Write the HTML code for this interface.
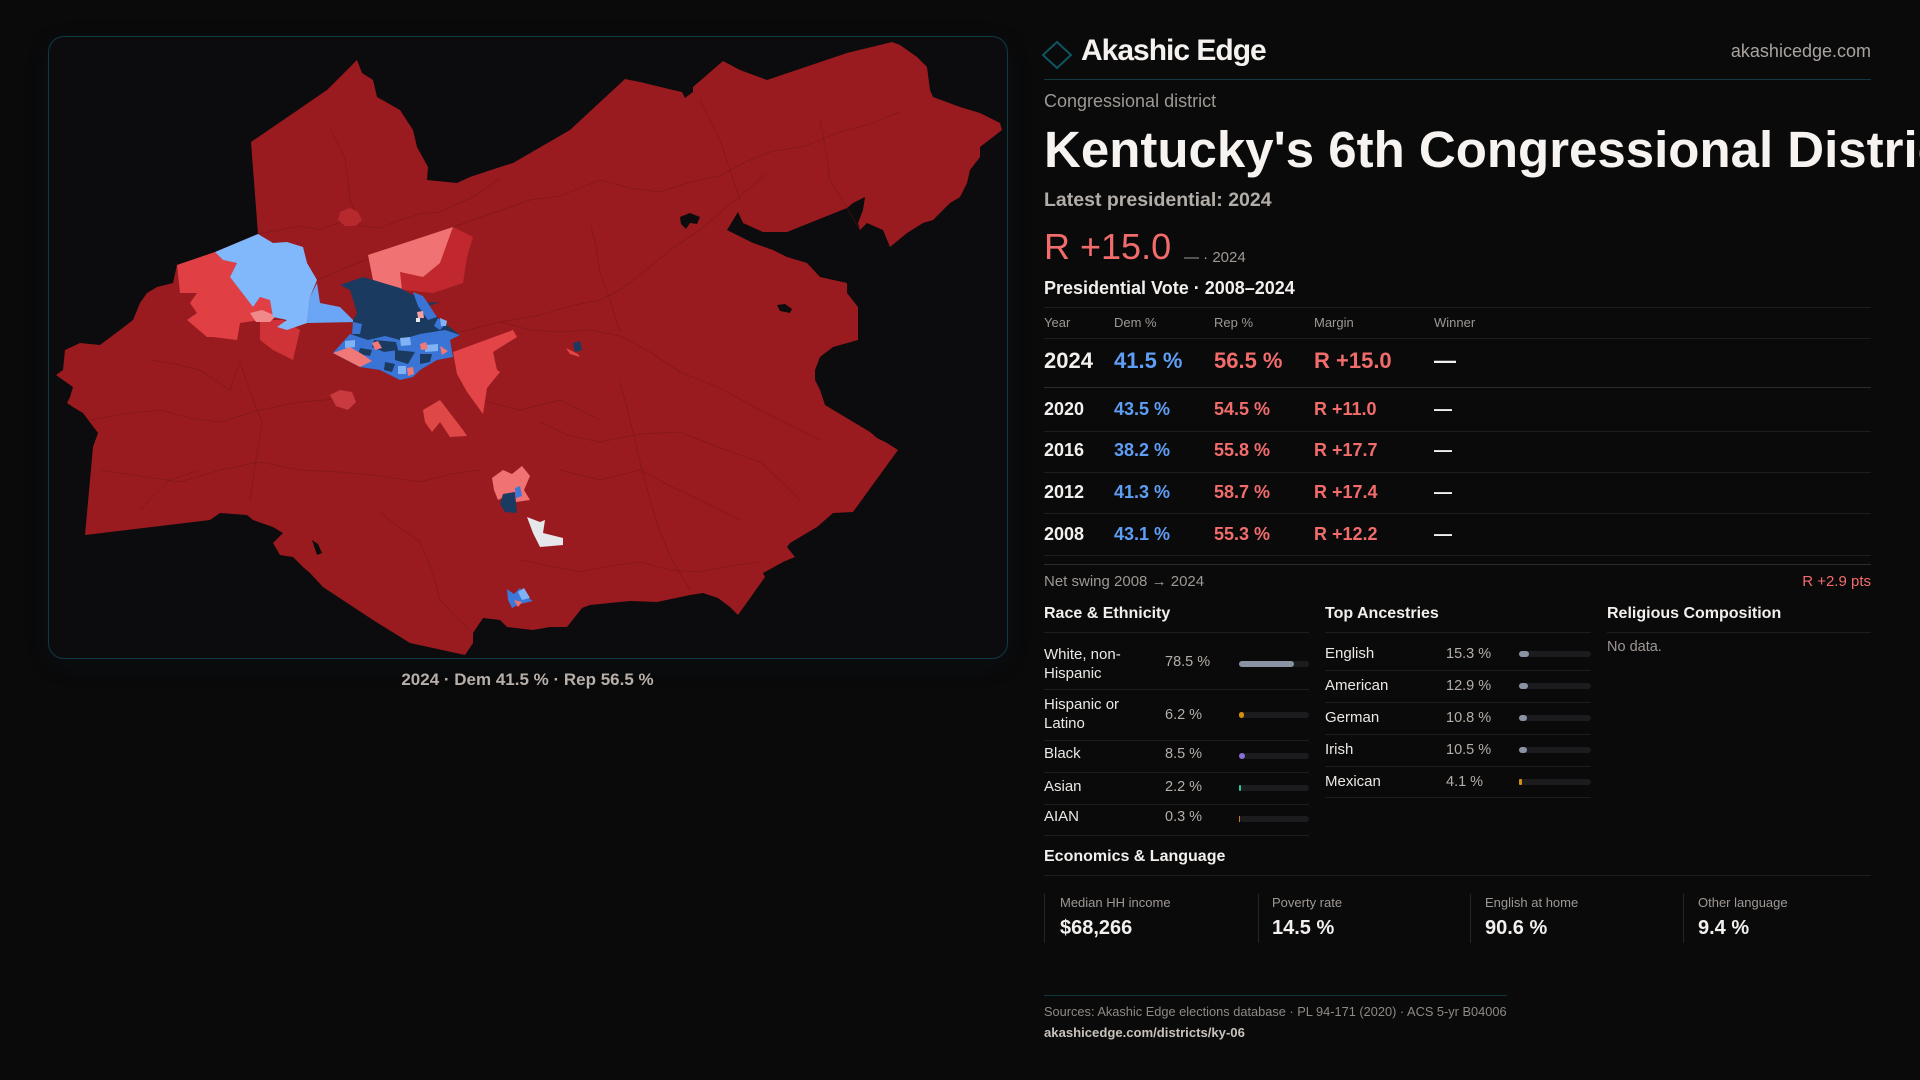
<!DOCTYPE html>
<html><head><meta charset="utf-8">
<style>
*{margin:0;padding:0;box-sizing:border-box}
html,body{width:1920px;height:1080px;background:#0a0a0b;overflow:hidden}
body{position:relative;font-family:"Liberation Sans",sans-serif;color:#f2efec}
.a{position:absolute;line-height:1;white-space:nowrap}
.ln{position:absolute;height:1px}
.g{color:#9e9893}
.w{color:#f2efec}
.b{color:#5e9ef5}
.r{color:#f26c6c}
.bold{font-weight:700}
.track{position:absolute;height:6px;border-radius:3px;background:#1c1c1f}
.fill{position:absolute;left:0;top:0;height:6px;border-radius:3px}
</style></head>
<body>
<!-- map panel -->
<div style="position:absolute;left:48px;top:36px;width:960px;height:623px;border:1px solid #0f3b45;border-radius:16px;background:#0c0b0d;box-shadow:0 6px 24px rgba(10,40,50,0.15)"></div>
<svg style="position:absolute;left:0;top:0" width="1020" height="700" viewBox="0 0 1020 700">
<polygon fill="#9a1b1f" points="251,142 273,127 327,90 357,60 362,73 373,80 377,97 400,110 413,130 417,147 428,167 427,180 457,183 470,177 500,167 513,163 570,130 625,79 640,82 673,90 682,92 685,98 693,92 693,87 723,61 740,70 767,80 847,53 892,42 900,45 917,57 927,67 930,90 933,97 960,107 980,113 1000,123 1002,130 993,137 980,147 980,157 970,170 967,183 960,197 950,203 933,220 923,223 907,233 890,247 883,230 867,223 860,230 858,223 863,210 865,197 853,203 847,208 787,232 763,232 743,223 738,212 727,230 733,233 753,243 773,250 787,257 807,263 820,277 847,283 847,293 858,307 858,340 833,347 820,357 815,370 815,380 820,390 825,405 870,432 877,438 887,443 898,450 853,512 833,513 817,527 790,543 787,547 795,557 783,562 763,573 765,577 738,615 730,607 718,598 703,593 690,595 657,602 630,601 590,605 582,608 567,627 550,627 533,630 507,627 500,620 483,618 473,633 473,643 465,655 410,643 373,620 323,587 310,573 303,567 293,557 280,555 273,543 283,533 273,527 253,520 247,515 220,513 210,520 85,535 93,447 98,433 83,413 73,407 67,403 70,397 73,387 63,380 56,375 63,370 65,350 80,343 100,345 120,330 133,320 140,303 147,293 157,287 173,283 177,265 215,252 258,234"/>
<!-- holes -->
<polygon fill="#0c0b0d" points="680,217 690,213 700,217 697,224 690,223 686,229 681,224"/>
<polygon fill="#0c0b0d" points="777,305 785,304 792,309 790,313 780,311"/>
<polygon fill="#0c0b0d" points="312,540 318,544 322,553 317,555"/>
<!-- county lines -->
<g fill="none" stroke="#6c1316" stroke-width="0.8" stroke-opacity="0.5" stroke-linejoin="round">
<polyline points="258,234 280,230 300,226 320,230 340,222 360,226 380,228 400,220 420,214 440,212 453,206 475,196 500,178"/>
<polyline points="317,280 360,262 400,248 453,227"/>
<polyline points="453,227 490,214 530,200 560,196 600,180 630,188 660,192 690,182 720,176 745,162 770,152 805,146 840,132 870,124 900,112"/>
<polyline points="767,173 740,196 700,230 670,250 640,275 620,290 600,300 570,306 540,315 500,322 460,332"/>
<polyline points="500,322 530,330 560,332 590,330 620,336 650,352 680,372 720,388 760,410 790,425 820,440"/>
<polyline points="90,420 125,414 160,410 190,418 220,422 260,410 300,402 325,400 350,396"/>
<polyline points="100,470 140,476 180,482 220,470 260,462 300,470 340,472 380,476 420,482 450,474 480,470"/>
<polyline points="240,362 250,392 262,422 256,460 250,500"/>
<polyline points="540,422 570,436 600,442 640,434 680,432 720,448 760,462 780,480 800,500"/>
<polyline points="520,560 550,566 580,572 610,566 640,562 670,570 700,572 730,566 760,562"/>
<polyline points="380,512 400,528 420,542 432,570 440,600 455,616 470,630"/>
<polyline points="620,382 630,420 640,462 650,500 660,532 672,560 690,590"/>
<polyline points="590,222 596,246 600,272 610,300 620,332"/>
<polyline points="820,120 826,150 830,180 846,206 860,230"/>
<polyline points="700,100 710,120 720,140 730,170 740,200"/>
<polyline points="330,130 340,146 345,160 348,180 350,200 360,225"/>
<polyline points="150,360 175,364 200,370 215,380 230,390 240,362"/>
<polyline points="560,470 600,480 640,470 670,486 700,500 740,520"/>
<polyline points="480,400 520,410 560,400 580,410 600,420"/>
<polyline points="140,510 155,494 170,480 200,470"/>
</g>
<!-- small patches north -->
<polygon fill="#b62a2e" points="340,212 350,208 358,212 362,220 356,226 345,226 338,220"/>
<!-- NW light red -->
<polygon fill="#e03f44" points="177,265 215,252 223,260 237,263 230,277 253,307 260,297 273,300 273,317 260,320 240,323 237,340 213,337 207,337 187,320 197,313 190,303 197,293 180,293"/>
<polygon fill="#cf3338" points="260,320 283,320 300,330 293,360 273,350 260,340"/>
<polygon fill="#f08a8a" points="250,313 262,310 276,316 270,322 256,322"/>
<!-- light blue -->
<polygon fill="#81b8fb" points="215,252 258,234 273,243 287,242 303,247 307,263 317,280 310,297 307,323 287,330 277,327 287,320 273,317 270,300 260,297 253,307 230,277 237,263 223,260"/>
<polygon fill="#6aa6f5" points="317,283 320,303 340,307 353,320 357,322 307,323 310,297"/>
<!-- salmon NE of Lexington -->
<polygon fill="#c0282d" points="453,227 473,237 467,257 463,283 433,293 402,290 400,272 423,277 440,263"/>
<polygon fill="#f07272" points="368,255 453,227 440,263 423,277 400,272 402,290 373,280"/>
<!-- Lexington navy -->
<polygon fill="#1b3a60" points="340,285 363,277 400,288 417,297 420,303 440,302 423,308 437,317 447,325 460,335 450,340 453,357 437,360 420,370 413,377 400,380 380,370 360,367 333,353 353,337 353,320 357,313 350,290"/>
<g>
<polygon fill="#3a75d6" points="350,334 368,340 385,336 400,340 420,334 445,330 460,335 450,340 453,357 437,360 420,370 413,377 400,380 380,370 360,367 333,353"/>
<polygon fill="#3a75d6" points="413,292 423,296 437,317 428,320 418,306"/>
<polygon fill="#3a75d6" points="353,322 362,324 360,334 352,334"/>
<polygon fill="#3a75d6" points="438,318 446,324 440,330 434,326"/>
<polygon fill="#1b3a60" points="374,340 396,342 398,350 384,352 372,347"/>
<polygon fill="#1b3a60" points="395,350 415,352 408,364 395,360"/>
<polygon fill="#1b3a60" points="360,348 372,350 370,356 358,354"/>
<polygon fill="#1b3a60" points="420,354 432,354 430,362 420,364"/>
<polygon fill="#1b3a60" points="385,362 395,364 392,372 384,370"/>
<polygon fill="#f07878" points="333,353 350,347 362,354 372,361 360,367"/>
<polygon fill="#7fb3f5" points="400,338 410,337 411,345 401,346"/>
<polygon fill="#7fb3f5" points="425,345 438,344 438,351 425,352"/>
<polygon fill="#7fb3f5" points="345,341 355,340 355,347 345,348"/>
<polygon fill="#7fb3f5" points="440,318 447,321 446,326 441,326"/>
<polygon fill="#7fb3f5" points="398,366 406,366 406,374 398,374"/>
<polygon fill="#f07878" points="372,343 378,341 382,348 375,350"/>
<polygon fill="#f07878" points="420,344 426,342 428,349 421,350"/>
<polygon fill="#f07878" points="440,346 448,351 442,355"/>
<polygon fill="#f07878" points="407,368 413,367 414,374 408,376"/>
<polygon fill="#f4a0a0" points="417,312 423,311 424,318 418,318"/>
<polygon fill="#e8e8ee" points="416,318 420,318 420,322 416,322"/>
</g>
<!-- south of Lexington light red -->
<polygon fill="#e24447" points="453,352 513,330 517,337 493,352 497,370 500,372 487,388 483,414 467,392 457,374"/>
<polygon fill="#e04848" points="423,410 440,400 463,430 467,436 450,437 440,422 432,432 425,422"/>
<polygon fill="#c83a3e" points="330,395 340,390 352,392 356,402 348,410 336,406"/>
<!-- Richmond -->
<polygon fill="#f07272" points="492,478 503,470 512,474 522,466 530,476 524,490 530,500 516,502 506,496 498,500 494,490"/>
<polygon fill="#1b3a60" points="503,494 515,492 517,513 505,512 500,504"/>
<polygon fill="#3b78d8" points="515,488 520,486 522,496 516,498"/>
<!-- white -->
<polygon fill="#e6e7ea" points="527,517 540,522 545,520 543,533 563,538 563,545 540,547 533,533"/>
<!-- Berea -->
<polygon fill="#3b78d8" points="507,589 514,594 520,588 525,596 533,601 520,604 512,608 508,600"/>
<polygon fill="#7fb3f5" points="518,592 524,588 530,598 522,600"/>
<polygon fill="#f07272" points="514,600 522,602 518,607"/>
<!-- small navy -->
<polygon fill="#1b3a60" points="573,343 580,341 582,350 575,352"/>
<polygon fill="#e04848" points="566,348 578,354 580,357 570,354"/>
</svg>
<div class="a" style="left:0;width:1055px;text-align:center;top:671px;font-size:17px;font-weight:700;color:#b7afa9">2024 · Dem 41.5 % · Rep 56.5 %</div>

<!-- header -->
<svg style="position:absolute;left:1040px;top:38px" width="36" height="34"><polygon points="17,4 31,17 17,30 3,17" fill="none" stroke="#0e5461" stroke-width="2"/></svg>
<div class="a bold" style="left:1081px;top:36px;font-size:30px;letter-spacing:-1px;color:#f4f1ee">Akashic Edge</div>
<div class="a" style="right:49px;top:42px;font-size:18px;color:#aaa39e">akashicedge.com</div>
<div class="ln" style="left:1044px;top:79px;width:827px;background:#113a44"></div>
<div class="a g" style="left:1044px;top:92px;font-size:18px">Congressional district</div>
<div class="a bold" style="left:1044px;top:124px;font-size:51px;color:#f6f3f0">Kentucky's 6th Congressional District</div>
<div class="a bold" style="left:1044px;top:191px;font-size:19.5px;color:#b3ada8">Latest presidential: 2024</div>
<div class="a r" style="left:1044px;top:229px;font-size:36px;color:#f26c6c">R +15.0</div>
<div class="a g" style="left:1184px;top:250px;font-size:15px">— · 2024</div>
<div class="a bold" style="left:1044px;top:279px;font-size:18px">Presidential Vote · 2008–2024</div>

<!-- table -->
<div class="ln" style="left:1044px;top:307px;width:827px;background:#1e1e20"></div>
<div class="a g" style="left:1044px;top:316px;font-size:13px">Year</div>
<div class="a g" style="left:1114px;top:316px;font-size:13px">Dem %</div>
<div class="a g" style="left:1214px;top:316px;font-size:13px">Rep %</div>
<div class="a g" style="left:1314px;top:316px;font-size:13px">Margin</div>
<div class="a g" style="left:1434px;top:316px;font-size:13px">Winner</div>
<div class="ln" style="left:1044px;top:338px;width:827px;background:#1e1e20"></div>

<div class="a bold w" style="left:1044px;top:350px;font-size:22px">2024</div>
<div class="a bold b" style="left:1114px;top:350px;font-size:22px">41.5 %</div>
<div class="a bold r" style="left:1214px;top:350px;font-size:22px">56.5 %</div>
<div class="a bold r" style="left:1314px;top:350px;font-size:22px">R +15.0</div>
<div class="a bold w" style="left:1434px;top:350px;font-size:22px">—</div>
<div class="ln" style="left:1044px;top:387px;width:827px;background:#2c2c2e"></div>

<div class="a bold w" style="left:1044px;top:400px;font-size:18px">2020</div>
<div class="a bold b" style="left:1114px;top:400px;font-size:18px">43.5 %</div>
<div class="a bold r" style="left:1214px;top:400px;font-size:18px">54.5 %</div>
<div class="a bold r" style="left:1314px;top:400px;font-size:18px">R +11.0</div>
<div class="a bold w" style="left:1434px;top:400px;font-size:18px">—</div>
<div class="ln" style="left:1044px;top:431px;width:827px;background:#1e1e20"></div>

<div class="a bold w" style="left:1044px;top:441px;font-size:18px">2016</div>
<div class="a bold b" style="left:1114px;top:441px;font-size:18px">38.2 %</div>
<div class="a bold r" style="left:1214px;top:441px;font-size:18px">55.8 %</div>
<div class="a bold r" style="left:1314px;top:441px;font-size:18px">R +17.7</div>
<div class="a bold w" style="left:1434px;top:441px;font-size:18px">—</div>
<div class="ln" style="left:1044px;top:472px;width:827px;background:#1e1e20"></div>

<div class="a bold w" style="left:1044px;top:483px;font-size:18px">2012</div>
<div class="a bold b" style="left:1114px;top:483px;font-size:18px">41.3 %</div>
<div class="a bold r" style="left:1214px;top:483px;font-size:18px">58.7 %</div>
<div class="a bold r" style="left:1314px;top:483px;font-size:18px">R +17.4</div>
<div class="a bold w" style="left:1434px;top:483px;font-size:18px">—</div>
<div class="ln" style="left:1044px;top:513px;width:827px;background:#1e1e20"></div>

<div class="a bold w" style="left:1044px;top:525px;font-size:18px">2008</div>
<div class="a bold b" style="left:1114px;top:525px;font-size:18px">43.1 %</div>
<div class="a bold r" style="left:1214px;top:525px;font-size:18px">55.3 %</div>
<div class="a bold r" style="left:1314px;top:525px;font-size:18px">R +12.2</div>
<div class="a bold w" style="left:1434px;top:525px;font-size:18px">—</div>
<div class="ln" style="left:1044px;top:555px;width:827px;background:#1e1e20"></div>
<div class="ln" style="left:1044px;top:564px;width:827px;background:#2c2c2e"></div>
<div class="a g" style="left:1044px;top:574px;font-size:15px">Net swing 2008 → 2024</div>
<div class="a r" style="right:49px;top:574px;font-size:15px">R +2.9 pts</div>

<!-- sections -->
<div class="a bold" style="left:1044px;top:606px;font-size:16px">Race &amp; Ethnicity</div>
<div class="a bold" style="left:1325px;top:606px;font-size:16px">Top Ancestries</div>
<div class="a bold" style="left:1607px;top:606px;font-size:16px">Religious Composition</div>
<div class="ln" style="left:1044px;top:632px;width:265px;background:#1e1e20"></div>
<div class="ln" style="left:1325px;top:632px;width:266px;background:#1e1e20"></div>
<div class="ln" style="left:1607px;top:632px;width:264px;background:#1e1e20"></div>

<!-- race rows -->
<div class="a" style="left:1044px;top:645px;font-size:15px;line-height:19px;color:#ece8e4;white-space:normal">White, non-<br>Hispanic</div>
<div class="a" style="left:1165px;top:655px;font-size:14.5px;color:#b5aea8">78.5 %</div>
<div class="track" style="left:1239px;top:661px;width:70px"><div class="fill" style="width:55px;background:#8a93a3"></div></div>
<div class="ln" style="left:1044px;top:689px;width:265px;background:#1e1e20"></div>

<div class="a" style="left:1044px;top:695px;font-size:15px;line-height:19px;color:#ece8e4;white-space:normal">Hispanic or<br>Latino</div>
<div class="a" style="left:1165px;top:708px;font-size:14.5px;color:#b5aea8">6.2 %</div>
<div class="track" style="left:1239px;top:712px;width:70px"><div class="fill" style="width:5px;background:#d4900c"></div></div>
<div class="ln" style="left:1044px;top:740px;width:265px;background:#1e1e20"></div>

<div class="a" style="left:1044px;top:746px;font-size:15px;color:#ece8e4">Black</div>
<div class="a" style="left:1165px;top:747px;font-size:14.5px;color:#b5aea8">8.5 %</div>
<div class="track" style="left:1239px;top:753px;width:70px"><div class="fill" style="width:6px;background:#8b6fd8"></div></div>
<div class="ln" style="left:1044px;top:772px;width:265px;background:#1e1e20"></div>

<div class="a" style="left:1044px;top:779px;font-size:15px;color:#ece8e4">Asian</div>
<div class="a" style="left:1165px;top:780px;font-size:14.5px;color:#b5aea8">2.2 %</div>
<div class="track" style="left:1239px;top:785px;width:70px"><div class="fill" style="width:2px;border-radius:1px;background:#2fc59a"></div></div>
<div class="ln" style="left:1044px;top:804px;width:265px;background:#1e1e20"></div>

<div class="a" style="left:1044px;top:809px;font-size:15px;color:#ece8e4">AIAN</div>
<div class="a" style="left:1165px;top:810px;font-size:14.5px;color:#b5aea8">0.3 %</div>
<div class="track" style="left:1239px;top:816px;width:70px"><div class="fill" style="width:1px;border-radius:0;background:#c87a1a"></div></div>
<div class="ln" style="left:1044px;top:835px;width:265px;background:#1e1e20"></div>

<!-- ancestry rows -->
<div class="a" style="left:1325px;top:646px;font-size:15px;color:#ece8e4">English</div>
<div class="a" style="left:1446px;top:647px;font-size:14.5px;color:#b5aea8">15.3 %</div>
<div class="track" style="left:1519px;top:651px;width:72px"><div class="fill" style="width:10px;background:#8a93a5"></div></div>
<div class="ln" style="left:1325px;top:670px;width:266px;background:#1e1e20"></div>

<div class="a" style="left:1325px;top:678px;font-size:15px;color:#ece8e4">American</div>
<div class="a" style="left:1446px;top:679px;font-size:14.5px;color:#b5aea8">12.9 %</div>
<div class="track" style="left:1519px;top:683px;width:72px"><div class="fill" style="width:9px;background:#8a93a5"></div></div>
<div class="ln" style="left:1325px;top:702px;width:266px;background:#1e1e20"></div>

<div class="a" style="left:1325px;top:710px;font-size:15px;color:#ece8e4">German</div>
<div class="a" style="left:1446px;top:711px;font-size:14.5px;color:#b5aea8">10.8 %</div>
<div class="track" style="left:1519px;top:715px;width:72px"><div class="fill" style="width:8px;background:#8a93a5"></div></div>
<div class="ln" style="left:1325px;top:734px;width:266px;background:#1e1e20"></div>

<div class="a" style="left:1325px;top:742px;font-size:15px;color:#ece8e4">Irish</div>
<div class="a" style="left:1446px;top:743px;font-size:14.5px;color:#b5aea8">10.5 %</div>
<div class="track" style="left:1519px;top:747px;width:72px"><div class="fill" style="width:8px;background:#8a93a5"></div></div>
<div class="ln" style="left:1325px;top:766px;width:266px;background:#1e1e20"></div>

<div class="a" style="left:1325px;top:774px;font-size:15px;color:#ece8e4">Mexican</div>
<div class="a" style="left:1446px;top:775px;font-size:14.5px;color:#b5aea8">4.1 %</div>
<div class="track" style="left:1519px;top:779px;width:72px"><div class="fill" style="width:3px;border-radius:1px;background:#d4900c"></div></div>
<div class="ln" style="left:1325px;top:797px;width:266px;background:#1e1e20"></div>

<div class="a g" style="left:1607px;top:640px;font-size:14.5px">No data.</div>

<!-- economics -->
<div class="a bold" style="left:1044px;top:849px;font-size:16px">Economics &amp; Language</div>
<div class="ln" style="left:1044px;top:875px;width:827px;background:#1e1e20"></div>
<div style="position:absolute;left:1044px;top:894px;width:1px;height:49px;background:#262628"></div>
<div style="position:absolute;left:1258px;top:894px;width:1px;height:49px;background:#262628"></div>
<div style="position:absolute;left:1470px;top:894px;width:1px;height:49px;background:#262628"></div>
<div style="position:absolute;left:1683px;top:894px;width:1px;height:49px;background:#262628"></div>
<div class="a g" style="left:1060px;top:896px;font-size:13px">Median HH income</div>
<div class="a g" style="left:1272px;top:896px;font-size:13px">Poverty rate</div>
<div class="a g" style="left:1485px;top:896px;font-size:13px">English at home</div>
<div class="a g" style="left:1698px;top:896px;font-size:13px">Other language</div>
<div class="a bold" style="left:1060px;top:918px;font-size:20px">$68,266</div>
<div class="a bold" style="left:1272px;top:918px;font-size:20px">14.5 %</div>
<div class="a bold" style="left:1485px;top:918px;font-size:20px">90.6 %</div>
<div class="a bold" style="left:1698px;top:918px;font-size:20px">9.4 %</div>

<!-- footer -->
<div class="ln" style="left:1044px;top:995px;width:463px;background:#12363f"></div>
<div class="a" style="left:1044px;top:1006px;font-size:12.8px;color:#8f8984">Sources: Akashic Edge elections database · PL 94-171 (2020) · ACS 5-yr B04006</div>
<div class="a bold" style="left:1044px;top:1026px;font-size:13.1px;color:#c8c2bc">akashicedge.com/districts/ky-06</div>
</body></html>
